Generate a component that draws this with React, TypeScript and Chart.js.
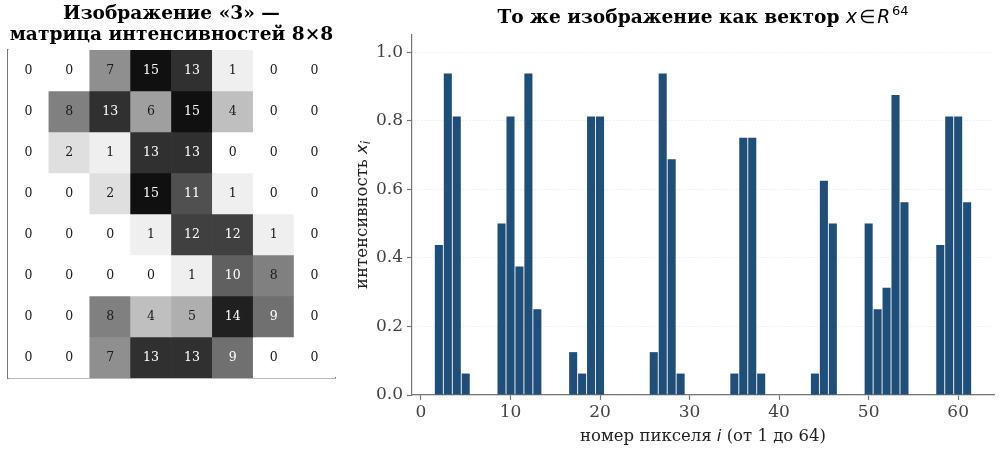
import React, { useEffect, useRef } from "react";
import { Chart, registerables } from "chart.js";

Chart.register(...registerables);

// 8x8 digit image, intensities 0..16
const MATRIX_ROWS: number[][] = [
  [0, 0, 7, 15, 13, 1, 0, 0],
  [0, 8, 13, 6, 15, 4, 0, 0],
  [0, 2, 1, 13, 13, 0, 0, 0],
  [0, 0, 2, 15, 11, 1, 0, 0],
  [0, 0, 0, 1, 12, 12, 1, 0],
  [0, 0, 0, 0, 1, 10, 8, 0],
  [0, 0, 8, 4, 5, 14, 9, 0],
  [0, 0, 7, 13, 13, 9, 0, 0],
];
const COLUMNS = ["0", "1", "2", "3", "4", "5", "6", "7"];
const PIXEL_MAX = 16;
// the same image flattened into a vector x (value / 16)
const VECTOR_VALUES: number[] = MATRIX_ROWS.flat().map((v) => v / PIXEL_MAX);
const X_TICKS = [0, 10, 20, 30, 40, 50, 60];
const Y_TICKS = [0, 0.2, 0.4, 0.6, 0.8, 1.0];

const SERIF = '"DejaVu Serif"';
const SANS = '"DejaVu Sans"';
const SPINE = "#777777";
const TICK_TEXT = "#444444";
const BAR_COLOR = "#1f4e79";

const grayFor = (v: number) => {
  const g = Math.round(255 * (1 - v / PIXEL_MAX));
  return `rgb(${g},${g},${g})`;
};

type Part = { text: string; font: string; dy?: number; dx?: number };

function drawParts(ctx: CanvasRenderingContext2D, parts: Part[], cx: number, y: number, color: string) {
  let total = 0;
  const widths = parts.map((p) => {
    ctx.font = p.font;
    const w = ctx.measureText(p.text).width + (p.dx || 0);
    total += w;
    return w;
  });
  let x = cx - total / 2;
  ctx.fillStyle = color;
  ctx.textAlign = "left";
  parts.forEach((p, i) => {
    ctx.font = p.font;
    ctx.fillText(p.text, x + (p.dx || 0), y + (p.dy || 0));
    x += widths[i];
  });
}

const cellLabels = {
  id: "cellLabels",
  afterDatasetsDraw(chart: any) {
    const ctx = chart.ctx as CanvasRenderingContext2D;
    ctx.save();
    ctx.font = `12.5px ${SERIF}`;
    ctx.textAlign = "center";
    ctx.textBaseline = "middle";
    chart.data.datasets.forEach((_ds: any, r: number) => {
      const meta = chart.getDatasetMeta(r);
      meta.data.forEach((el: any, c: number) => {
        const v = MATRIX_ROWS[r][c];
        const p = el.getCenterPoint();
        ctx.fillStyle = v > 8 ? "#ffffff" : "#1a1a1a";
        ctx.fillText(String(v), p.x, p.y);
      });
    });
    ctx.restore();
  },
};

const leftTitle = {
  id: "leftTitle",
  afterDraw(chart: any) {
    const ctx = chart.ctx as CanvasRenderingContext2D;
    const a = chart.chartArea;
    const cx = (a.left + a.right) / 2;
    ctx.save();
    ctx.textBaseline = "middle";
    ctx.textAlign = "center";
    ctx.fillStyle = "#000";
    ctx.font = `bold 18.6px ${SERIF}`;
    ctx.fillText("Изображение «3» —", cx, 14);
    ctx.fillText("матрица интенсивностей 8×8", cx, 35);
    ctx.restore();
  },
};

const rightTexts = {
  id: "rightTexts",
  afterDraw(chart: any) {
    const ctx = chart.ctx as CanvasRenderingContext2D;
    const a = chart.chartArea;
    const cx = (a.left + a.right) / 2;
    ctx.save();
    ctx.textBaseline = "alphabetic";
    drawParts(
      ctx,
      [
        { text: "То же изображение как вектор ", font: `bold 18.6px ${SERIF}` },
        { text: "x", font: `italic 18.6px ${SANS}` },
        { text: "∈", font: `18.6px ${SANS}`, dx: 2 },
        { text: "R", font: `italic 18.6px ${SANS}`, dx: 2 },
        { text: "64", font: `13px ${SANS}`, dy: -8, dx: 2 },
      ],
      cx,
      23,
      "#000"
    );
    ctx.textBaseline = "middle";
    drawParts(
      ctx,
      [
        { text: "номер пикселя ", font: `16.5px ${SERIF}` },
        { text: "i", font: `italic 16.5px ${SANS}` },
        { text: " (от 1 до 64)", font: `16.5px ${SERIF}` },
      ],
      cx,
      437,
      "#222"
    );
    ctx.translate(18, (a.top + a.bottom) / 2);
    ctx.rotate(-Math.PI / 2);
    drawParts(
      ctx,
      [
        { text: "интенсивность ", font: `16.5px ${SERIF}` },
        { text: "x", font: `italic 16.5px ${SANS}` },
        { text: "i", font: `italic 11.5px ${SANS}`, dy: 4 },
      ],
      0,
      0,
      "#222"
    );
    ctx.restore();
  },
};

function Heatmap() {
  const ref = useRef<HTMLCanvasElement | null>(null);
  useEffect(() => {
    if (!ref.current) return;
    const chart = new Chart(ref.current, {
      type: "bar",
      data: {
        labels: COLUMNS,
        datasets: MATRIX_ROWS.map((row, r) => ({
          data: row.map(() => [r, r + 1]),
          backgroundColor: row.map(grayFor),
          borderWidth: 0,
          barPercentage: 1,
          categoryPercentage: 1,
          grouped: false,
        })) as any,
      },
      options: {
        responsive: false,
        animation: false,
        events: [],
        layout: { padding: { top: 50, right: 10, left: 0, bottom: 0 } },
        plugins: { legend: { display: false }, tooltip: { enabled: false }, title: { display: false } },
        scales: {
          x: {
            type: "category",
            offset: true,
            grid: { display: false, drawTicks: false },
            ticks: { display: false },
            border: { display: true, color: SPINE, width: 1.5 },
            afterFit: (s: any) => {
              s.height = 72;
            },
          },
          y: {
            type: "linear",
            min: 0,
            max: 8,
            reverse: true,
            grid: { display: false, drawTicks: false },
            ticks: { display: false },
            border: { display: true, color: SPINE, width: 1.5 },
            afterFit: (s: any) => {
              s.width = 8;
            },
          },
        },
      } as any,
      plugins: [cellLabels, leftTitle],
    });
    return () => chart.destroy();
  }, []);
  return <canvas ref={ref} width={345} height={450} style={{ width: 345, height: 450, display: "block" }} />;
}

function VectorBars() {
  const ref = useRef<HTMLCanvasElement | null>(null);
  useEffect(() => {
    if (!ref.current) return;
    const chart = new Chart(ref.current, {
      type: "bar",
      data: {
        datasets: [
          {
            data: VECTOR_VALUES.map((v, i) => ({ x: i, y: v })),
            backgroundColor: BAR_COLOR,
            borderWidth: 0,
            barPercentage: 0.9,
            categoryPercentage: 1,
          },
        ],
      } as any,
      options: {
        responsive: false,
        animation: false,
        events: [],
        layout: { padding: { top: 35, right: 6, left: 0, bottom: 0 } },
        plugins: { legend: { display: false }, tooltip: { enabled: false }, title: { display: false } },
        scales: {
          x: {
            type: "linear",
            min: -1,
            max: 64,
            offset: false,
            grid: {
              display: true,
              offset: false,
              drawOnChartArea: false,
              drawTicks: true,
              tickLength: 5,
              tickColor: SPINE,
              tickWidth: 1.2,
            },
            ticks: {
              color: TICK_TEXT,
              font: { family: "DejaVu Serif", size: 17 },
              padding: 2,
              maxRotation: 0,
              autoSkip: false,
              callback: (v: any) => String(v),
            },
            afterBuildTicks: (s: any) => {
              s.ticks = X_TICKS.map((v) => ({ value: v }));
            },
            border: { display: true, color: SPINE, width: 1.2 },
            afterFit: (s: any) => {
              s.height = 55;
            },
          },
          y: {
            type: "linear",
            min: 0,
            max: 1.05,
            grid: {
              display: true,
              color: "#e0e0e0",
              lineWidth: 0.8,
              drawTicks: true,
              tickLength: 5,
              tickColor: SPINE,
              tickWidth: 1.2,
            },
            ticks: {
              color: TICK_TEXT,
              font: { family: "DejaVu Serif", size: 17 },
              padding: 4,
              autoSkip: false,
              callback: (v: any) => Number(v).toFixed(1),
            },
            afterBuildTicks: (s: any) => {
              s.ticks = Y_TICKS.map((v) => ({ value: v }));
            },
            border: { display: true, color: SPINE, width: 1.2, dash: [1, 2] },
            afterFit: (s: any) => {
              s.width = 67;
            },
          },
        },
      } as any,
      plugins: [rightTexts],
    });
    return () => chart.destroy();
  }, []);
  return <canvas ref={ref} width={655} height={450} style={{ width: 655, height: 450, display: "block" }} />;
}

export default function App() {
  return (
    <div style={{ position: "absolute", left: 0, top: 0, width: 1000, height: 450, background: "#fff" }}>
      <div style={{ position: "absolute", left: 0, top: 0, width: 345, height: 450 }}>
        <Heatmap />
      </div>
      <div style={{ position: "absolute", left: 345, top: 0, width: 655, height: 450 }}>
        <VectorBars />
      </div>
    </div>
  );
}
